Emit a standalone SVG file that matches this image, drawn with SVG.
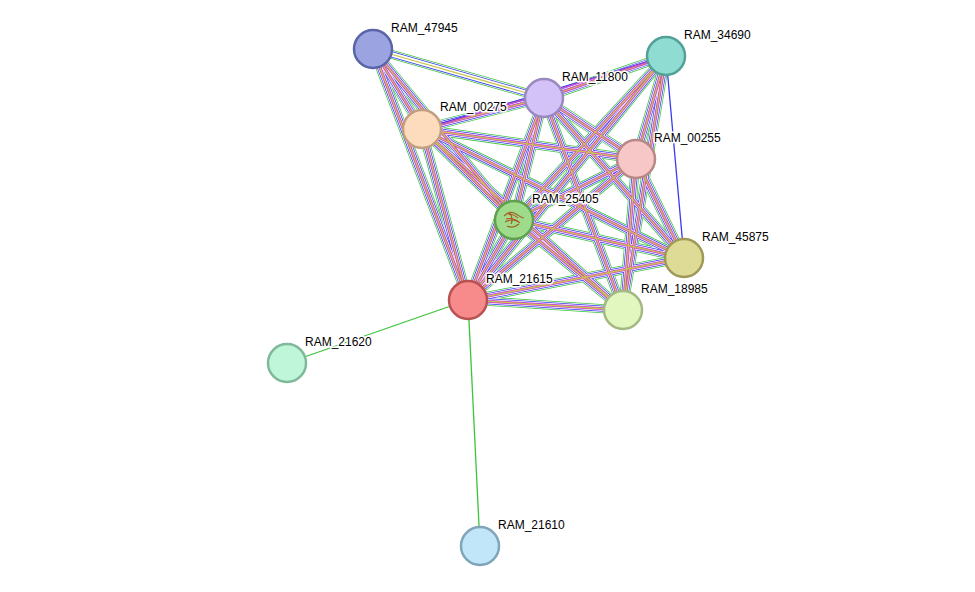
<svg xmlns="http://www.w3.org/2000/svg" xmlns:xlink="http://www.w3.org/1999/xlink" width="975" height="592" viewBox="0 0 975 592">
<style>
.g{stroke:#3cc43c;fill:none}.b{stroke:#3a3af0;fill:none}.m{stroke:#d040d0;fill:none}.y{stroke:#c8c850;fill:none}.w{stroke:#fff;fill:none}
.w9{stroke-width:9}.w7{stroke-width:7.5}.w6{stroke-width:6}.w4{stroke-width:4.5}.w3{stroke-width:3}.w1{stroke-width:1.3}
.n{stroke-width:2.5}
text{font-family:"Liberation Sans",Arial,sans-serif;font-size:12px;fill:#000;stroke:#fff;stroke-width:3;paint-order:stroke;stroke-linejoin:round}
</style>
<defs>
<path id="e1" d="M373,49L544,98"/><path id="e2" d="M373,49L422,129"/><path id="e3" d="M373,49L514,220"/><path id="e4" d="M373,49L468,300"/>
<path id="e5" d="M666,56L544,98"/><path id="e6" d="M666,56L422,129"/><path id="e7" d="M666,56L514,220"/><path id="e8" d="M666,56L468,300"/><path id="e9" d="M666,56L623,310"/><path id="e10" d="M666,56L636,159"/>
<path id="e11" d="M544,98L422,129"/><path id="e12" d="M544,98L636,159"/><path id="e13" d="M544,98L514,220"/><path id="e14" d="M544,98L468,300"/><path id="e15" d="M544,98L684,258"/><path id="e16" d="M544,98L623,310"/>
<path id="e17" d="M422,129L636,159"/><path id="e18" d="M422,129L514,220"/><path id="e19" d="M422,129L468,300"/><path id="e20" d="M422,129L623,310"/><path id="e21" d="M422,129L684,258"/>
<path id="e22" d="M636,159L514,220"/><path id="e23" d="M636,159L468,300"/><path id="e24" d="M636,159L684,258"/><path id="e25" d="M636,159L623,310"/>
<path id="e26" d="M514,220L468,300"/><path id="e27" d="M514,220L684,258"/><path id="e28" d="M514,220L623,310"/>
<path id="e29" d="M468,300L684,258"/><path id="e30" d="M468,300L623,310"/>
</defs>
<g id="connectors">
<g id="full">
<g class="g w9"><use href="#e1"/><use href="#e2"/><use href="#e3"/><use href="#e4"/><use href="#e5"/><use href="#e7"/><use href="#e8"/><use href="#e9"/><use href="#e10"/><use href="#e11"/><use href="#e12"/><use href="#e13"/><use href="#e14"/><use href="#e15"/><use href="#e16"/><use href="#e17"/><use href="#e18"/><use href="#e19"/><use href="#e20"/><use href="#e21"/><use href="#e22"/><use href="#e23"/><use href="#e24"/><use href="#e25"/><use href="#e26"/><use href="#e27"/><use href="#e28"/><use href="#e29"/><use href="#e30"/></g>
<g class="w w7"><use href="#e1"/><use href="#e2"/><use href="#e3"/><use href="#e4"/><use href="#e5"/><use href="#e7"/><use href="#e8"/><use href="#e9"/><use href="#e10"/><use href="#e11"/><use href="#e12"/><use href="#e13"/><use href="#e14"/><use href="#e15"/><use href="#e16"/><use href="#e17"/><use href="#e18"/><use href="#e19"/><use href="#e20"/><use href="#e21"/><use href="#e22"/><use href="#e23"/><use href="#e24"/><use href="#e25"/><use href="#e26"/><use href="#e27"/><use href="#e28"/><use href="#e29"/><use href="#e30"/></g>
<g class="b w6"><use href="#e1"/><use href="#e2"/><use href="#e3"/><use href="#e4"/><use href="#e5"/><use href="#e7"/><use href="#e8"/><use href="#e9"/><use href="#e10"/><use href="#e11"/><use href="#e12"/><use href="#e13"/><use href="#e14"/><use href="#e15"/><use href="#e16"/><use href="#e17"/><use href="#e18"/><use href="#e19"/><use href="#e20"/><use href="#e21"/><use href="#e22"/><use href="#e23"/><use href="#e24"/><use href="#e25"/><use href="#e26"/><use href="#e27"/><use href="#e28"/><use href="#e29"/><use href="#e30"/></g>
<g class="w w4"><use href="#e1"/><use href="#e2"/><use href="#e3"/><use href="#e4"/><use href="#e5"/><use href="#e7"/><use href="#e8"/><use href="#e9"/><use href="#e10"/><use href="#e11"/><use href="#e12"/><use href="#e13"/><use href="#e14"/><use href="#e15"/><use href="#e16"/><use href="#e17"/><use href="#e18"/><use href="#e19"/><use href="#e20"/><use href="#e21"/><use href="#e22"/><use href="#e23"/><use href="#e24"/><use href="#e25"/><use href="#e26"/><use href="#e27"/><use href="#e28"/><use href="#e29"/><use href="#e30"/></g>
<g class="m w3"><use href="#e2"/><use href="#e3"/><use href="#e4"/><use href="#e5"/><use href="#e7"/><use href="#e8"/><use href="#e9"/><use href="#e10"/><use href="#e11"/><use href="#e12"/><use href="#e13"/><use href="#e14"/><use href="#e15"/><use href="#e16"/><use href="#e17"/><use href="#e18"/><use href="#e19"/><use href="#e20"/><use href="#e21"/><use href="#e22"/><use href="#e23"/><use href="#e24"/><use href="#e25"/><use href="#e26"/><use href="#e27"/><use href="#e28"/><use href="#e29"/><use href="#e30"/></g>
<g class="y w1"><use href="#e1"/><use href="#e2"/><use href="#e3"/><use href="#e4"/><use href="#e5"/><use href="#e7"/><use href="#e8"/><use href="#e9"/><use href="#e10"/><use href="#e11"/><use href="#e12"/><use href="#e13"/><use href="#e14"/><use href="#e15"/><use href="#e16"/><use href="#e17"/><use href="#e18"/><use href="#e19"/><use href="#e20"/><use href="#e21"/><use href="#e22"/><use href="#e23"/><use href="#e24"/><use href="#e25"/><use href="#e26"/><use href="#e27"/><use href="#e28"/><use href="#e29"/><use href="#e30"/></g>
</g>
<path d="M666,56L422,129" class="b" stroke-width="1.2"/>
<path d="M668,56L423,130" class="m" stroke-width="1.2"/>
<path d="M666,56L684,258" class="b" stroke-width="1.3"/>
<path d="M468,300L287,363" class="g" stroke-width="1.3"/>
<path d="M468,300L480,546" class="g" stroke-width="1.3"/>
</g>
<g id="RAM_47945"><circle cx="373" cy="49" r="19" fill="#9ba4e0" stroke="#5a64a8" class="n"/><text x="391" y="32">RAM_47945</text></g>
<g id="RAM_34690"><circle cx="666" cy="56" r="19" fill="#8edcd2" stroke="#52a098" class="n"/><text x="684" y="39">RAM_34690</text></g>
<g id="RAM_11800"><circle cx="544" cy="98" r="19" fill="#d3c2f7" stroke="#9a88c0" class="n"/><text x="562" y="81">RAM_11800</text></g>
<g id="RAM_00275"><circle cx="422" cy="129" r="19" fill="#fcdcbc" stroke="#c0a080" class="n"/><text x="440" y="111">RAM_00275</text></g>
<g id="RAM_00255"><circle cx="636" cy="159" r="19" fill="#f7c6c6" stroke="#b88888" class="n"/><text x="654" y="142">RAM_00255</text></g>
<g id="RAM_25405"><circle cx="514" cy="220" r="19" fill="#9edc8c" stroke="#5ea050" class="n"/>
<path d="M504,216q6,-6 12,-2t8,4M505,222q7,-4 14,0M507,226q6,3 12,-2M509,212q5,6 2,12" fill="none" stroke="#a06020" stroke-width="1.2"/>
<path d="M506,219q8,-2 14,4M508,214q6,0 10,4" fill="none" stroke="#c04020" stroke-width="1"/>
<text x="532" y="203">RAM_25405</text></g>
<g id="RAM_45875"><circle cx="684" cy="258" r="19" fill="#dedb96" stroke="#a09a58" class="n"/><text x="702" y="241">RAM_45875</text></g>
<g id="RAM_21615"><circle cx="468" cy="300" r="19" fill="#f78a8a" stroke="#b85252" class="n"/><text x="486" y="283">RAM_21615</text></g>
<g id="RAM_18985"><circle cx="623" cy="310" r="19" fill="#e2f7bf" stroke="#a4b882" class="n"/><text x="641" y="293">RAM_18985</text></g>
<g id="RAM_21620"><circle cx="287" cy="363" r="19" fill="#bff6d9" stroke="#80b89a" class="n"/><text x="305" y="346">RAM_21620</text></g>
<g id="RAM_21610"><circle cx="480" cy="546" r="19" fill="#c2e6f9" stroke="#80a4b8" class="n"/><text x="498" y="529">RAM_21610</text></g>
</svg>
